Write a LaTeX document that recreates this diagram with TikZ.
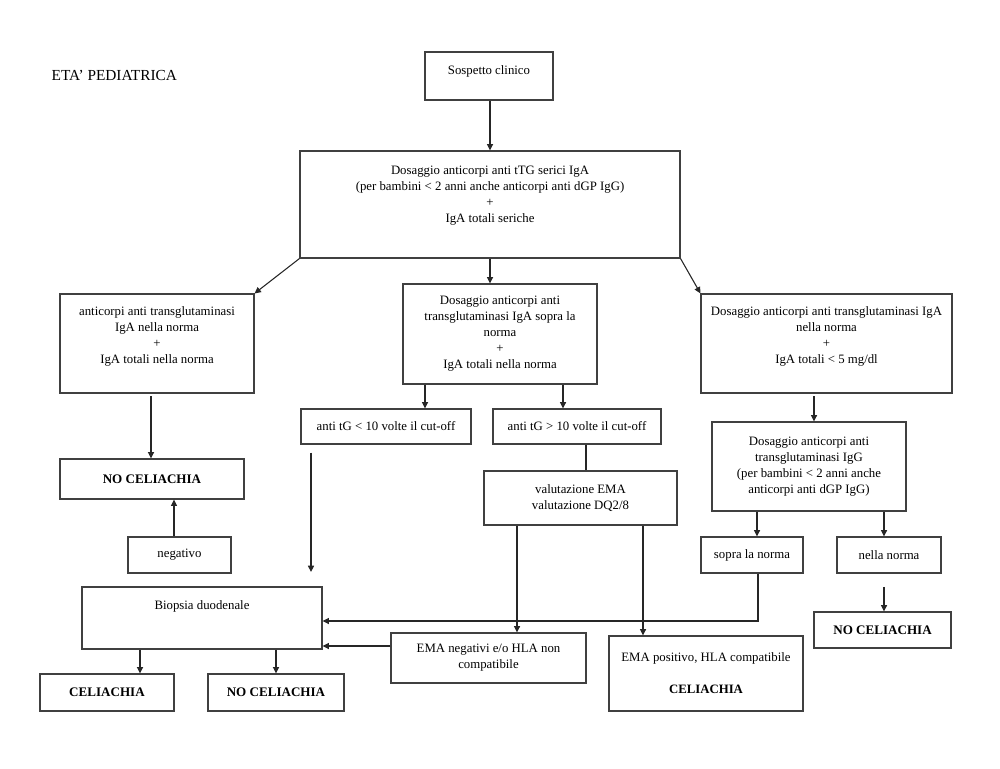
\documentclass[tikz,border=0pt]{standalone}
\usepackage{fontspec}
\setmainfont{Liberation Serif}
\usetikzlibrary{positioning, arrows.meta}
\tikzstyle{blocco} = [draw=black!75, line width=0.8pt, rectangle, align=center, inner sep=2pt, font=\fontsize{9.6}{12}\selectfont]
\tikzstyle{esito} = [blocco, font=\fontsize{9.8}{12}\selectfont\bfseries]
\tikzstyle{freccia} = [draw=black!85, line width=0.8pt, -{Triangle[length=4.8pt,width=4.6pt]}]
\tikzstyle{linea} = [draw=black!85, line width=0.8pt]

\begin{document}
\begin{tikzpicture}[x=0.75pt, y=-0.75pt]
	\useasboundingbox (0,0) rectangle (1000,768);
	\node[anchor=west, font=\fontsize{11.5}{13}\selectfont] (titolo) at (47,75) {ETA’ PEDIATRICA};
	% primo livello
	\node[blocco, minimum width=96pt, minimum height=36pt] (sosp) at (489,76) {Sospetto clinico\\[-3pt]\mbox{}};
	\node[blocco, minimum width=285pt, minimum height=80.25pt] (dosaggio) at (490,204.5) {Dosaggio anticorpi anti tTG serici IgA\\(per bambini < 2 anni anche anticorpi anti dGP IgG)\\+\\IgA totali seriche\\[3pt]\mbox{}};
	% secondo livello
	\node[blocco, minimum width=145.5pt, minimum height=74.25pt] (ttgnorm) at (157,343.5) {anticorpi anti transglutaminasi\\IgA nella norma\\+\\IgA totali nella norma\\[1pt]\mbox{}};
	\node[blocco, minimum width=145.5pt, minimum height=75pt] (ttgalto) at (500,334) {Dosaggio anticorpi anti\\transglutaminasi IgA sopra la\\norma\\+\\IgA totali nella norma};
	\node[blocco, minimum width=188.25pt, minimum height=74.25pt] (igadef) at (826.5,343.5) {Dosaggio anticorpi anti transglutaminasi IgA\\nella norma\\+\\IgA totali < 5 mg/dl\\[1pt]\mbox{}};
	% ramo centrale
	\node[blocco, minimum width=127.5pt, minimum height=26.25pt] (ttgbasso) at (386,426.5) {anti tG < 10 volte il cut-off};
	\node[blocco, minimum width=126pt, minimum height=26.25pt] (ttgmolto) at (577,426.5) {anti tG > 10 volte il cut-off};
	\node[blocco, minimum width=144.75pt, minimum height=40.5pt] (valutaz) at (580.5,498) {valutazione EMA\\valutazione DQ2/8};
	\node[blocco, minimum width=146.25pt, minimum height=37.5pt] (emaneg) at (488.5,658) {EMA negativi e/o HLA non\\compatibile};
	\node[blocco, minimum width=145.5pt, minimum height=56.25pt] (emapos) at (706,673.5) {EMA positivo, HLA compatibile\\[12pt]\textbf{CELIACHIA}};
	% ramo destro
	\node[blocco, minimum width=145.5pt, minimum height=66.75pt] (ttgigg) at (809,466.5) {Dosaggio anticorpi anti\\transglutaminasi IgG\\(per bambini < 2 anni anche\\anticorpi anti dGP IgG)};
	\node[blocco, minimum width=76.5pt, minimum height=27pt] (sopra) at (752,555) {sopra la norma};
	\node[blocco, minimum width=78pt, minimum height=27pt] (nella) at (889,555) {nella norma};
	\node[esito, minimum width=102.75pt, minimum height=27pt] (nocelD) at (882.5,630) {NO CELIACHIA};
	% ramo sinistro
	\node[esito, minimum width=138pt, minimum height=30pt] (nocelA) at (152,479) {NO CELIACHIA};
	\node[blocco, minimum width=77.25pt, minimum height=27pt] (negativo) at (179.5,555) {negativo};
	\node[blocco, minimum width=180pt, minimum height=46.5pt] (biopsia) at (202,618) {Biopsia duodenale\\[8pt]\mbox{}};
	\node[esito, minimum width=100.5pt, minimum height=27.75pt] (celiachia) at (107,692.5) {CELIACHIA};
	\node[esito, minimum width=102pt, minimum height=27.75pt] (nocelB) at (276,692.5) {NO CELIACHIA};
	\coordinate (finebasso) at (311,572);

	% collegamenti
	\draw[freccia] (sosp.south -| dosaggio.north) -- (dosaggio.north);
	\draw[freccia] (dosaggio.south west) -- (ttgnorm.north east);
	\draw[freccia] (dosaggio.south east) -- (igadef.north west);
	\draw[freccia] (dosaggio.south) -- (dosaggio.south |- ttgalto.north);
	\draw[freccia] (ttgalto.south -| 425,0) -- (ttgbasso.north -| 425,0);
	\draw[freccia] (ttgalto.south -| 563,0) -- (ttgmolto.north -| 563,0);
	\draw[linea] (ttgmolto.south -| 586,0) -- (valutaz.north -| 586,0);
	\draw[freccia] (valutaz.south -| 517,0) -- (emaneg.north -| 517,0);
	\draw[freccia] (valutaz.south -| 643,0) -- (emapos.north -| 643,0);
	\draw[freccia] ([yshift=-6pt]ttgbasso.south -| finebasso) -- (finebasso);
	\draw[freccia] ([yshift=-2pt]ttgnorm.south -| 151,0) -- (nocelA.north -| 151,0);
	\draw[freccia] (negativo.north -| 174,0) -- (nocelA.south -| 174,0);
	\draw[freccia] (sopra.south -| 758,0) |- (biopsia.east |- 0,621);
	\draw[freccia] (emaneg.west |- 0,646) -- (biopsia.east |- 0,646);
	\draw[freccia] (biopsia.south -| 140,0) -- (celiachia.north -| 140,0);
	\draw[freccia] (biopsia.south -| nocelB.north) -- (nocelB.north);
	\draw[freccia] ([yshift=-2pt]igadef.south -| 814,0) -- (ttgigg.north -| 814,0);
	\draw[freccia] (ttgigg.south -| 757,0) -- (sopra.north -| 757,0);
	\draw[freccia] (ttgigg.south -| 884,0) -- (nella.north -| 884,0);
	\draw[freccia] ([yshift=-10pt]nella.south -| 884,0) -- (nocelD.north -| 884,0);
\end{tikzpicture}
\end{document}
